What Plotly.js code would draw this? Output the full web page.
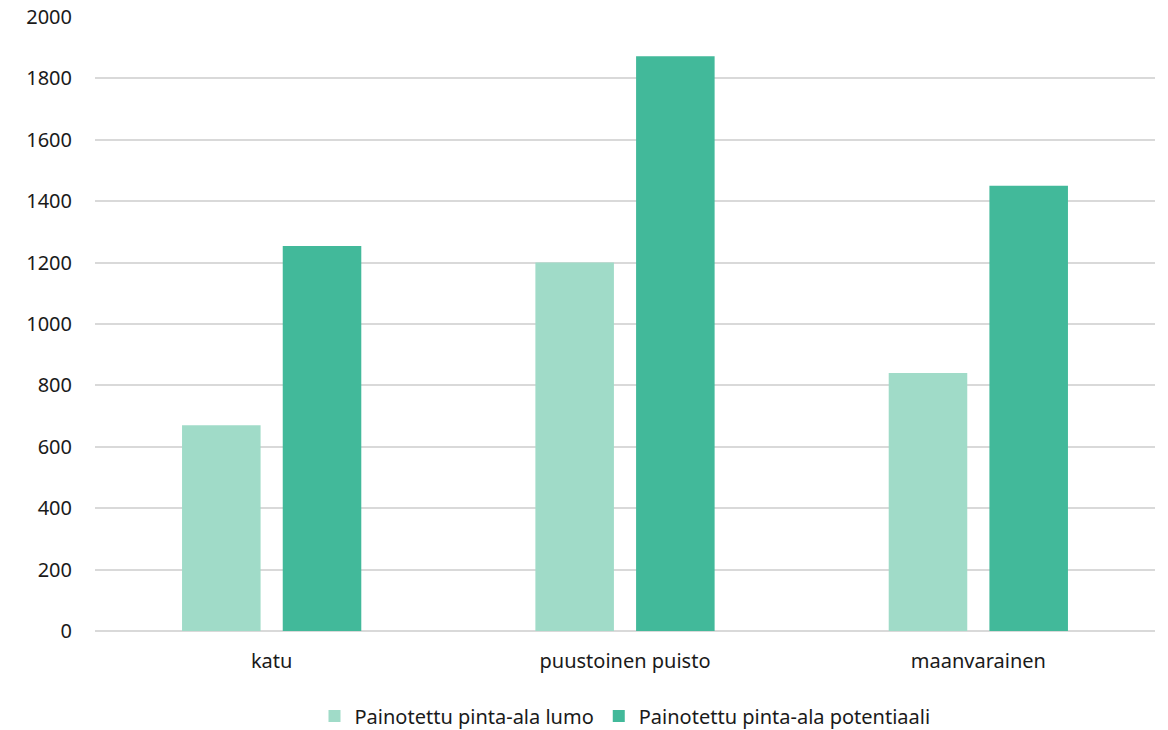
<!DOCTYPE html>
<html>
<head>
<meta charset="utf-8">
<script src="https://cdn.plot.ly/plotly-3.0.1.min.js"></script>
<style>html,body{margin:0;padding:0;background:#fff;}#chart{width:1168px;height:730px;}</style>
</head>
<body>
<div id="chart"></div>
<script>
const categories = ["katu", "puustoinen puisto", "maanvarainen"];
const seriesNames = ["Painotettu pinta-ala lumo", "Painotettu pinta-ala potentiaali"];
const lumoValues = [670, 1200, 840];
const potentiaaliValues = [1254, 1872, 1450];
const yTickValues = [0, 200, 400, 600, 800, 1000, 1200, 1400, 1600, 1800, 2000];

const FONT = '"Source Sans Pro", "Noto Sans", sans-serif';

const traces = [
  {type: 'bar', name: seriesNames[0], x: categories, y: lumoValues,
   marker: {color: '#A0DBC8'}, hoverinfo: 'x+y'},
  {type: 'bar', name: seriesNames[1], x: categories, y: potentiaaliValues,
   marker: {color: '#42B99A'}, hoverinfo: 'x+y'}
];

const layout = {
  width: 1168, height: 730,
  margin: {l: 95, r: 13, t: 17, b: 99, autoexpand: false},
  paper_bgcolor: '#ffffff', plot_bgcolor: '#ffffff',
  font: {family: FONT, size: 20, color: '#1a1a1a'},
  barmode: 'group',
  bargap: 0.43,
  bargroupgap: 0.22,
  showlegend: true,
  legend: {orientation: 'h', x: 0.5, xanchor: 'center', y: -0.17, yanchor: 'bottom',
           bgcolor: 'rgba(0,0,0,0)',
           font: {family: FONT, size: 20, color: '#1a1a1a'}, itemwidth: 30, traceorder: 'normal'},
  xaxis: {type: 'category', showgrid: false, zeroline: false, showline: false,
          ticks: '', ticklabelstandoff: 16, tickfont: {family: FONT, size: 20, color: '#1a1a1a'}},
  yaxis: {range: [0, 2000], tickvals: yTickValues, ticktext: yTickValues.map(String),
          showgrid: true, gridcolor: '#d9d9d9', gridwidth: 1.5,
          zeroline: true, zerolinecolor: '#d9d9d9', zerolinewidth: 1.5,
          showline: false, ticks: '', ticklabelstandoff: 22,
          tickfont: {family: FONT, size: 20, color: '#1a1a1a'}}
};

Plotly.newPlot('chart', traces, layout, {displayModeBar: false, responsive: false});
</script>
</body>
</html>
